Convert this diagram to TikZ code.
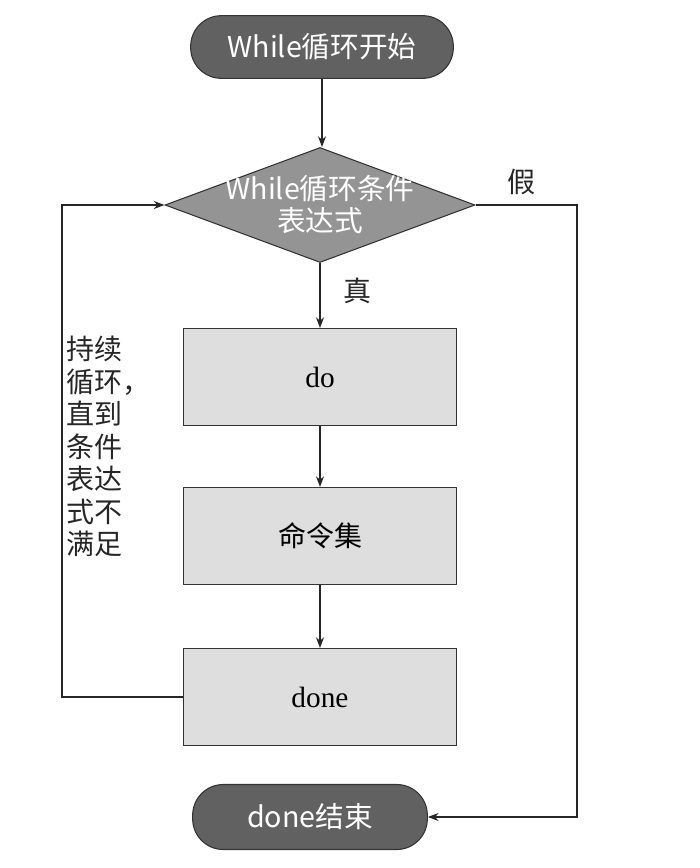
\documentclass[tikz,border=0pt]{standalone}
\usepackage{fontspec}
\setmainfont{Liberation Serif}
\newfontfamily\cjk{Noto Sans CJK SC}
\usetikzlibrary{shapes.geometric,arrows.meta}
\begin{document}
\begin{tikzpicture}[x=0.75pt,y=-0.75pt,
  terminal/.style={draw=black!80, line width=0.8pt, fill=black!62, rounded corners=23pt, inner sep=0pt,
    text=white, font=\cjk\fontsize{21.5}{24}\selectfont},
  procbox/.style={draw=black!80, line width=0.8pt, fill=black!13, inner sep=0pt,
    minimum width=204.75pt, minimum height=72.75pt, font=\fontsize{22}{26}\selectfont},
  decision/.style={diamond, draw=black!80, line width=0.8pt, fill=black!42, inner sep=0pt,
    minimum width=232.5pt, minimum height=86.25pt},
  flow/.style={line width=0.9pt, draw=black!85, -{Stealth[length=8pt,width=6pt]}},
  lbl/.style={font=\cjk\fontsize{21}{24.4}\selectfont, text=black!85, inner sep=0pt}
]
\useasboundingbox (0,0) rectangle (700,868);

\node[terminal, minimum width=197pt, minimum height=47pt] (start) at (322,47) {While循环开始};
\node[decision] (cond) at (320,205) {};
\node[font=\cjk\fontsize{21.5}{24}\selectfont, text=white, align=center, inner sep=0pt] (condtxt) at (cond.center) {While循环条件\\表达式};
\node[procbox] (do) at (320,377) {do};
\node[procbox, font=\cjk\fontsize{21}{24}\selectfont] (cmd) at (320,536) {命令集};
\node[procbox] (done) at (320,697) {done};
\node[terminal, minimum width=176pt, minimum height=48.75pt] (end) at (310,817) {done结束};

\coordinate (lx) at (62,697);
\coordinate (rx) at (577,205);

\draw[flow] (start.south) -- (start.south |- cond.north);
\draw[flow] (cond.south) -- (do.north);
\draw[flow] (do.south) -- (cmd.north);
\draw[flow] (cmd.south) -- (done.north);
\draw[flow] (done.west) -- (lx) |- (cond.west);
\draw[flow] (cond.east) -- (rx) |- (end.east);

\node[lbl] (t) at (357,291) {真};
\node[lbl] (f) at (521,182) {假};
\node[lbl, align=left, anchor=north west] (loop) at (66,336) {持续\\循环，\\直到\\条件\\表达\\式不\\满足};
\end{tikzpicture}
\end{document}
